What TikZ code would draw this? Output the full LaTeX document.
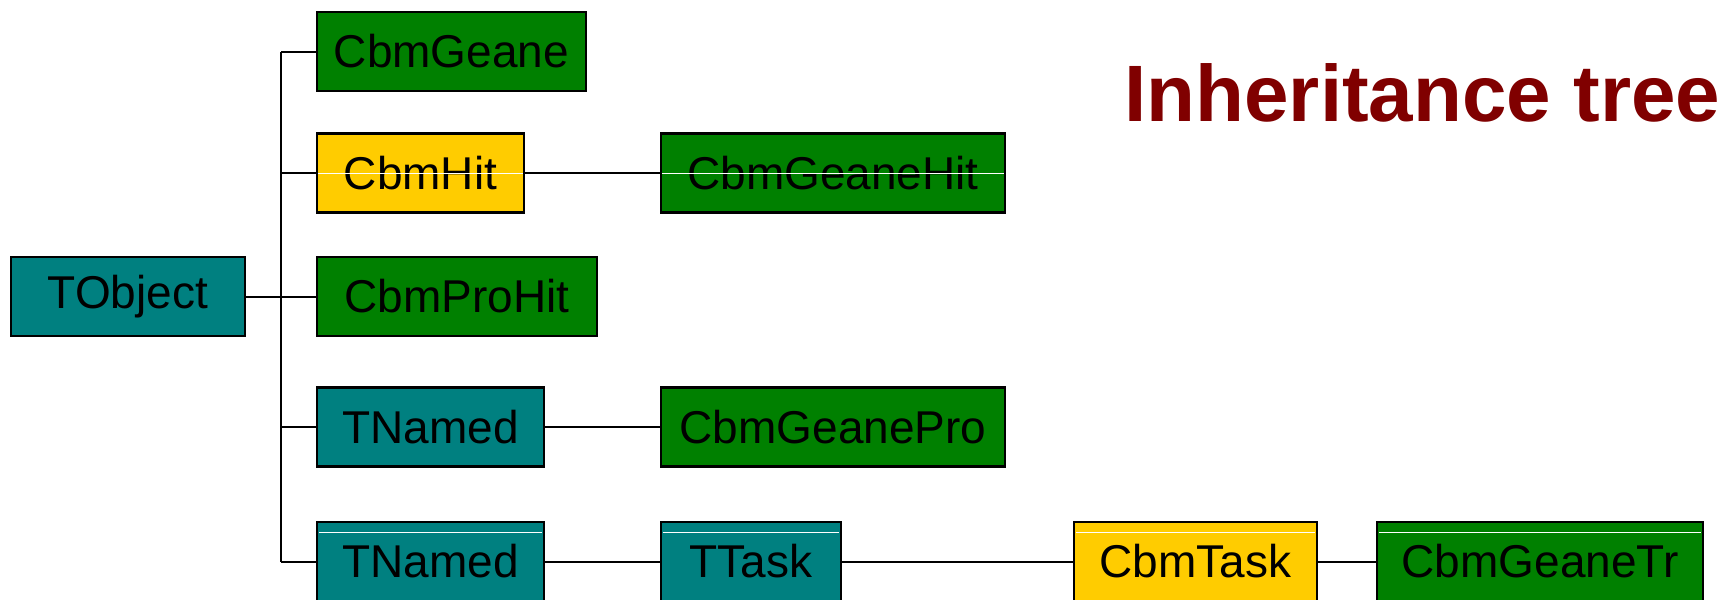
\documentclass[tikz,border=0pt]{standalone}
\usepackage{fontspec}
\setmainfont{Liberation Sans}
\definecolor{tealbox}{RGB}{0,128,128}
\definecolor{greenbox}{RGB}{0,128,0}
\definecolor{yellowbox}{RGB}{255,204,0}
\definecolor{titlered}{RGB}{128,0,0}
\begin{document}
\begin{tikzpicture}[x=0.5pt,y=-0.5pt,
  box/.style={draw=black, line width=1.2pt, minimum height=39.5pt, inner sep=0pt,
    font=\fontsize{23}{27}\selectfont, text=black},
  tealnode/.style={box, fill=tealbox},
  greennode/.style={box, fill=greenbox},
  yellownode/.style={box, fill=yellowbox},
  conn/.style={line width=1pt, draw=black},
  glint/.style={draw=white, line width=0.5pt}]
\useasboundingbox (0,0) rectangle (1731,600);

\node[tealnode, minimum width=117pt] (tobj) at (128,296.5) {TObject};
\node[greennode, minimum width=134.5pt] (geane) at (451.5,51.5) {CbmGeane};
\node[yellownode, minimum width=103.5pt] (hit) at (420.5,173) {CbmHit};
\node[greennode, minimum width=172pt] (ghit) at (833,173) {CbmGeaneHit};
\node[greennode, minimum width=140pt] (prohit) at (457,296.5) {CbmProHit};
\node[tealnode, minimum width=113.5pt] (tn1) at (430.5,427) {TNamed};
\node[greennode, minimum width=172pt] (gpro) at (833,427) {CbmGeanePro};
\node[tealnode, minimum width=113.5pt] (tn2) at (430.5,561.5) {TNamed};
\node[tealnode, minimum width=90pt] (ttask) at (751,561.5) {TTask};
\node[yellownode, minimum width=121.5pt] (ctask) at (1195.5,561.5) {CbmTask};
\node[greennode, minimum width=163pt] (gtr) at (1540,561.5) {CbmGeaneTr};

\node[anchor=base west, inner sep=0pt, text=titlered,
  font=\fontsize{40}{48}\selectfont\bfseries] (title) at (1124,121) {Inheritance tree};

\coordinate (ttop) at (281,51.5);
\coordinate (tbot) at (281,561.5);
\draw[conn] (ttop) -- (tbot);
\draw[conn] (tobj.east) -- (tobj.east -| ttop);
\draw[conn] (ttop) -- (geane.west);
\draw[conn] (hit.west -| ttop) -- (hit.west);
\draw[conn] (prohit.west -| ttop) -- (prohit.west);
\draw[conn] (tn1.west -| ttop) -- (tn1.west);
\draw[conn] (tbot) -- (tn2.west);
\draw[conn] (hit) -- (ghit);
\draw[conn] (tn1) -- (gpro);
\draw[conn] (tn2) -- (ttask);
\draw[conn] (ttask) -- (ctask);
\draw[conn] (ctask) -- (gtr);

\draw[glint] ([xshift=1pt]hit.west) -- ([xshift=-1pt]hit.east);
\draw[glint] ([xshift=1pt]ghit.west) -- ([xshift=-1pt]ghit.east);
\foreach \n in {tn2,ttask,ctask,gtr}
  \draw[glint] ([xshift=1.5pt,yshift=-6pt]\n.north west) -- ([xshift=-1.5pt,yshift=-6pt]\n.north east);
\end{tikzpicture}
\end{document}
